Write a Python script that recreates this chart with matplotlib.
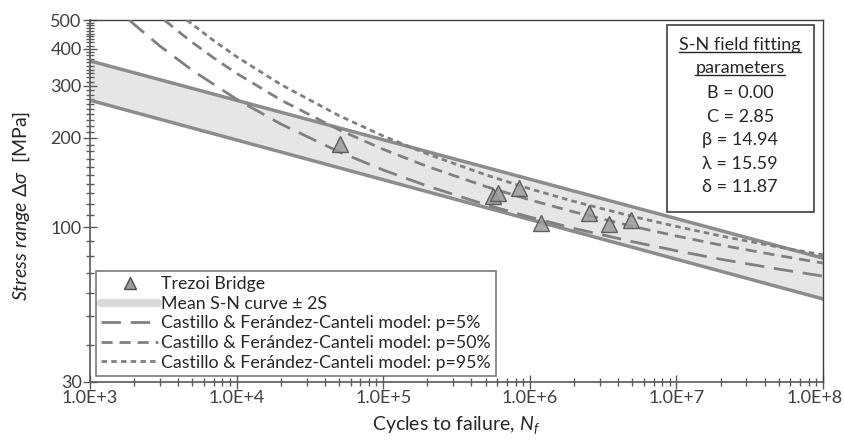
import numpy as np
import matplotlib
matplotlib.use('Agg')
import matplotlib.pyplot as plt
import matplotlib.transforms as mtrans
from matplotlib.ticker import FixedLocator, NullFormatter, LogLocator
from matplotlib.lines import Line2D
from matplotlib.patches import Rectangle

plt.rcParams['font.family'] = ['Lato', 'DejaVu Sans']
plt.rcParams['mathtext.fontset'] = 'custom'
plt.rcParams['mathtext.rm'] = 'Lato'
plt.rcParams['mathtext.it'] = 'Lato:italic'

# --- data ---
bridge_N = [5.07e4, 5.6e5, 6.1e5, 8.4e5, 1.19e6, 2.52e6, 3.48e6, 4.88e6]
bridge_S = [191, 127, 130, 135, 103, 112, 102.5, 106]

band_N = [1e3, 1e8]
band_upper = [364, 78.6]
band_lower = [268, 57.2]

p05_N = [1855, 2e3, 3e3, 5e3, 1e4, 2e4, 5e4, 1e5, 2e5, 5e5, 1e6, 2e6, 5e6, 1e7, 2e7, 5e7, 1e8]
p05_S = [500, 483.5, 408.5, 337.9, 270.2, 222.9, 179.5, 155.9, 137.6, 119.0, 108.1, 99.0, 89.3, 83.2, 77.9, 72.1, 68.3]

p50_N = [3216, 4e3, 5e3, 7e3, 1e4, 2e4, 5e4, 1e5, 2e5, 5e5, 1e6, 2e6, 5e6, 1e7, 2e7, 5e7, 1e8]
p50_S = [500, 457.7, 420.0, 372.1, 330.4, 268.7, 213.0, 183.1, 160.2, 137.1, 123.6, 112.5, 100.6, 93.3, 87.0, 80.1, 75.6]

p95_N = [4585, 5e3, 7e3, 1e4, 2e4, 5e4, 1e5, 2e5, 5e5, 1e6, 2e6, 5e6, 1e7, 2e7, 5e7, 1e8]
p95_S = [500, 483.1, 425.7, 376.0, 303.1, 237.8, 203.1, 176.6, 150.1, 134.7, 122.1, 108.7, 100.5, 93.4, 85.6, 80.6]

xticks = [1e3, 1e4, 1e5, 1e6, 1e7, 1e8]
xtick_labels = ['1.0E+3', '1.0E+4', '1.0E+5', '1.0E+6', '1.0E+7', '1.0E+8']
yticks = [30, 100, 200, 300, 400, 500]

params = ['B = 0.00', 'C = 2.85', 'β = 14.94', 'λ = 15.59', 'δ = 11.87']

fig = plt.figure(figsize=(8.44, 4.45), dpi=100)
ax = fig.add_axes([0.1066, 0.1416, 0.8685, 0.8134])

grey = '#808080'
d05, d50, d95 = (7, 3.5), (4, 2.5), (2, 1.5)

ax.fill_between(band_N, band_lower, band_upper, color='#e6e6e6', lw=0, zorder=1)
ax.plot(band_N, band_upper, color='#8c8c8c', lw=2.5, zorder=2)
ax.plot(band_N, band_lower, color='#8c8c8c', lw=2.5, zorder=2)

ax.plot(p05_N, p05_S, color=grey, lw=2, dashes=d05, zorder=3)
ax.plot(p50_N, p50_S, color=grey, lw=2, dashes=d50, zorder=3)
ax.plot(p95_N, p95_S, color=grey, lw=2, dashes=d95, zorder=3)

ax.plot(bridge_N, bridge_S, ls='none', marker='^', ms=11, mfc='#9a9a9a',
        mec='#4d4d4d', mew=1, alpha=0.85, zorder=4)

ax.set_xscale('log')
ax.set_yscale('log')
ax.set_xlim(1e3, 1e8)
ax.set_ylim(30, 500)

ax.xaxis.set_major_locator(FixedLocator(xticks))
ax.set_xticklabels(xtick_labels)
ax.xaxis.set_minor_locator(LogLocator(base=10, subs=np.arange(2, 10)))
ax.xaxis.set_minor_formatter(NullFormatter())
ax.yaxis.set_major_locator(FixedLocator(yticks))
ax.set_yticklabels([str(v) for v in yticks])
ax.yaxis.set_minor_locator(FixedLocator([v for v in range(30, 501, 10) if v not in yticks]))
ax.yaxis.set_minor_formatter(NullFormatter())

ax.tick_params(which='major', direction='inout', length=10, width=1, color='#595959',
               labelsize=13, labelcolor='#404040', pad=1)
ax.tick_params(which='minor', direction='inout', length=6, width=1, color='#595959')
for s in ['left', 'bottom']:
    ax.spines[s].set_color('#595959')
    ax.spines[s].set_linewidth(1.2)
for s in ['top', 'right']:
    ax.spines[s].set_color('#404040')
    ax.spines[s].set_linewidth(1)

# nudge the last x label so it stays inside the figure
last = ax.get_xticklabels()[-1]
last.set_transform(last.get_transform() + mtrans.ScaledTranslation(-8 / 100, 0, fig.dpi_scale_trans))

ax.set_xlabel(r'Cycles to failure, $\mathit{N_f}$', fontsize=14, color='#262626', labelpad=6)
ax.set_ylabel(r'$\mathit{Stress\ range\ \Delta\sigma}$  [MPa]', fontsize=14, color='#262626')
ax.yaxis.set_label_coords(-0.079, 0.486)

handles = [
    Line2D([], [], ls='none', marker='^', ms=9, mfc='#9a9a9a', mec='#4d4d4d', mew=1),
    Line2D([], [], color='#dadada', lw=6, solid_capstyle='round'),
    Line2D([], [], color=grey, lw=2, dashes=d05),
    Line2D([], [], color=grey, lw=2, dashes=d50),
    Line2D([], [], color=grey, lw=2, dashes=d95),
]
labels = ['Trezoi Bridge', 'Mean S-N curve ± 2S',
          'Castillo & Ferández-Canteli model: p=5%',
          'Castillo & Ferández-Canteli model: p=50%',
          'Castillo & Ferández-Canteli model: p=95%']
leg = ax.legend(handles, labels, loc='lower left', bbox_to_anchor=(0.008, 0.017),
                borderaxespad=0, fontsize=12.8, frameon=True, fancybox=False,
                edgecolor='#595959', handlelength=3.2, handletextpad=0.15,
                labelspacing=0.2, borderpad=0.3)
leg.get_frame().set_linewidth(1.2)
for t in leg.get_texts():
    t.set_color('#262626')

# parameter box
ax.add_patch(Rectangle((0.787, 0.470), 0.201, 0.516, transform=ax.transAxes,
                       fill=False, ec='#404040', lw=1.2, zorder=5))
head = ['S-N field fitting', 'parameters']
head_y = [0.931, 0.867]
heads = []
for s, y in zip(head, head_y):
    heads.append(ax.text(0.887, y, s, transform=ax.transAxes, ha='center', va='center',
                         fontsize=13, color='#262626', zorder=6))
for i, s in enumerate(params):
    ax.text(0.887, 0.798 - i * 0.065, s, transform=ax.transAxes, ha='center', va='center',
            fontsize=13, color='#262626', zorder=6)

fig.canvas.draw()
r = fig.canvas.get_renderer()
inv = ax.transAxes.inverted()
for t in heads:
    bb = t.get_window_extent(renderer=r)
    (x0, y0), (x1, _) = inv.transform([(bb.x0, bb.y0), (bb.x1, bb.y1)])
    ax.plot([x0, x1], [y0 + 0.004, y0 + 0.004], transform=ax.transAxes, color='#262626',
            lw=1, zorder=6, clip_on=False)

fig.savefig('out.png', dpi=100)
